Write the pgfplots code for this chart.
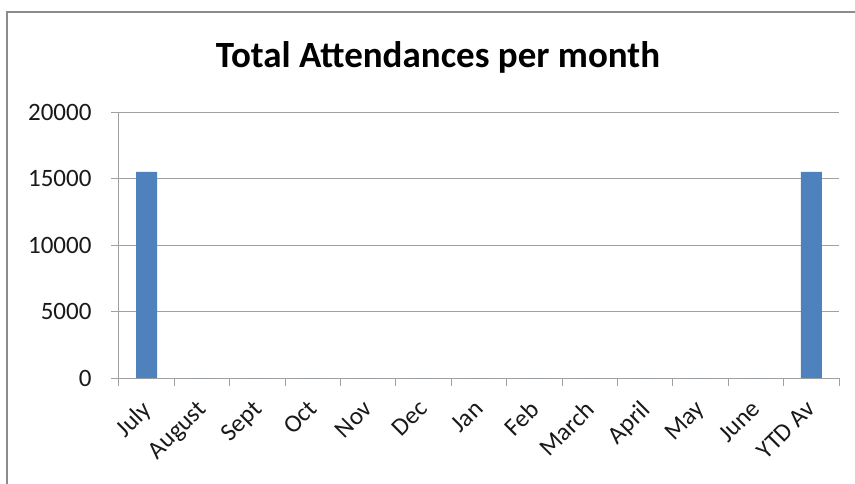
\documentclass[border=0pt]{standalone}
\usepackage{fontspec}
\setmainfont{Carlito}
\usepackage{pgfplots}
\pgfplotsset{compat=1.18}
\definecolor{barblue}{HTML}{4F81BD}
\definecolor{gridgray}{HTML}{A0A0A0}
\definecolor{framegray}{HTML}{8C8C8C}
\begin{document}
\begin{tikzpicture}
\useasboundingbox (0,0) rectangle (855pt,-484pt);
\draw[framegray, line width=2pt] (7pt,-490pt) -- (7pt,-12pt) -- (860pt,-12pt);
\node[anchor=base, font=\fontsize{37}{42}\selectfont\bfseries] at (438pt,-68pt) {Total Attendances per month};
\begin{axis}[
    at={(119pt,-378pt)}, anchor=south west,
    scale only axis, width=720pt, height=266pt,
    xmin=-0.5, xmax=12.5, ymin=0, ymax=20000,
    axis x line=bottom, axis y line=left,
    axis line style={-, gridgray, line width=1pt},
    xtick={0,...,12},
    xticklabels={July,August,Sept,Oct,Nov,Dec,Jan,Feb,March,April,May,June,YTD Av},
    minor xtick={-0.5,0.5,...,12.5},
    major x tick style={draw=none},
    minor tick length=8pt,
    ytick={0,5000,10000,15000,20000},
    major tick length=8pt,
    tick align=outside,
    tick style={gridgray, line width=1pt},
    ymajorgrids, grid style={gridgray, line width=1pt},
    scaled y ticks=false,
    /pgf/number format/1000 sep={},
    /pgf/number format/assume math mode=true,
    ticklabel style={font=\fontsize{25}{30}\selectfont, text=black!90},
    xticklabel style={xshift=-6pt, yshift=-10pt, rotate=45, anchor=north east, inner sep=2pt},
    yticklabel style={xshift=-16pt},
    clip=false,
]
\addplot[ybar, bar width=21pt, fill=barblue, draw=none] coordinates {
    (0,15500) (1,0) (2,0) (3,0) (4,0) (5,0) (6,0) (7,0) (8,0) (9,0) (10,0) (11,0) (12,15500)
};
\end{axis}
\end{tikzpicture}
\end{document}
